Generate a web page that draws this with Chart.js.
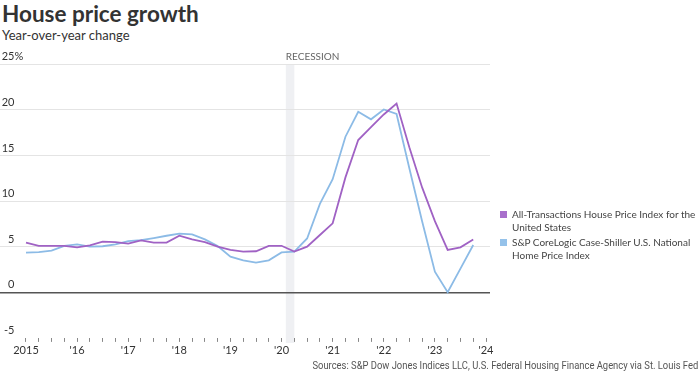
<!DOCTYPE html>
<html>
<head>
<meta charset="utf-8">
<script src="https://cdn.jsdelivr.net/npm/chart.js@4/dist/chart.umd.min.js"></script>
<style>
html,body{margin:0;padding:0;background:#fff;}
body{width:700px;height:376px;position:relative;overflow:hidden;font-family:Lato,"DejaVu Sans",sans-serif;color:#333;}
#c{position:absolute;left:0;top:0;}
#title{position:absolute;left:2px;top:0px;font-size:22.5px;line-height:28px;font-weight:700;color:#333;white-space:nowrap;}
#sub{position:absolute;left:2px;top:26px;font-size:13px;line-height:18px;color:#333;white-space:nowrap;}
#legend{position:absolute;left:499px;top:207.5px;width:201px;font-size:10px;line-height:13.5px;color:#444;}
.item{position:relative;padding-left:13px;margin-bottom:1px;white-space:nowrap;}
.sw{position:absolute;left:1px;top:3px;width:7px;height:7px;}
#src{position:absolute;right:2px;top:358px;font-family:Roboto,sans-serif;font-size:11px;line-height:16px;color:#555;white-space:nowrap;transform:scaleX(0.855);transform-origin:right center;}
</style>
</head>
<body>
<div id="title">House price growth</div>
<div id="sub">Year-over-year change</div>
<canvas id="c" width="700" height="376"></canvas>
<div id="legend"></div>
<div id="src">Sources: S&amp;P Dow Jones Indices LLC, U.S. Federal Housing Finance Agency via St. Louis Fed</div>
<script>
// ---- data ----
const quarters = [
  '2015Q1','2015Q2','2015Q3','2015Q4',
  '2016Q1','2016Q2','2016Q3','2016Q4',
  '2017Q1','2017Q2','2017Q3','2017Q4',
  '2018Q1','2018Q2','2018Q3','2018Q4',
  '2019Q1','2019Q2','2019Q3','2019Q4',
  '2020Q1','2020Q2','2020Q3','2020Q4',
  '2021Q1','2021Q2','2021Q3','2021Q4',
  '2022Q1','2022Q2','2022Q3','2022Q4',
  '2023Q1','2023Q2','2023Q3','2023Q4'
];
const allTransactions = [
  5.44, 5.10, 5.08, 5.10,
  4.93, 5.15, 5.55, 5.50,
  5.33, 5.70, 5.45, 5.45,
  6.20, 5.80, 5.50, 5.00,
  4.64, 4.45, 4.50, 5.08,
  5.10, 4.47, 5.00, 6.28,
  7.56, 12.6, 16.7, 18.1,
  19.5, 20.7, 15.9, 11.5,
  7.8, 4.64, 4.93, 5.80
];
const caseShiller = [
  4.35, 4.40, 4.56, 5.08,
  5.26, 5.00, 5.05, 5.25,
  5.60, 5.73, 5.95, 6.20,
  6.43, 6.35, 5.80, 5.08,
  3.90, 3.50, 3.25, 3.50,
  4.37, 4.47, 5.90, 9.70,
  12.4, 17.06, 19.8, 18.97,
  20.05, 19.55, 13.6, 7.8,
  2.26, 0.0, 2.6, 5.19
];
const seriesNames = ['All-Transactions House Price Index for the United States',
                     'S&P CoreLogic Case-Shiller U.S. National Home Price Index'];
const legendLines = [['All-Transactions House Price Index for the', 'United States'],
                     ['S&P CoreLogic Case-Shiller U.S. National', 'Home Price Index']];
const seriesColors = ['#a062c4', '#8cbbe6'];
const swatchColors = ['#a86fcb', '#95c2ea'];
const yTicks = [-5, 0, 5, 10, 15, 20, 25];
const years = [2015, 2016, 2017, 2018, 2019, 2020, 2021, 2022, 2023, 2024];
const yearLabels = ['2015', "'16", "'17", "'18", "'19", "'20", "'21", "'22", "'23", "'24"];
const recession = [2020 + 1/12, 2020 + 3/12]; // Feb 2020 - Apr 2020
const recessionLabel = 'RECESSION';

// ---- helpers ----
const qToYear = q => parseInt(q.slice(0,4)) + (parseInt(q.slice(5)) - 1) / 4;
const xTickValues = [];
years.forEach((y, i) => {
  xTickValues.push(y);
  if (i < years.length - 1) { xTickValues.push(y + 0.25, y + 0.5, y + 0.75); }
});

// legend (HTML)
const lg = document.getElementById('legend');
legendLines.forEach((lines, i) => {
  const d = document.createElement('div');
  d.className = 'item';
  const sw = document.createElement('span');
  sw.className = 'sw';
  sw.style.background = swatchColors[i];
  d.appendChild(sw);
  lines.forEach((t, k) => {
    if (k > 0) d.appendChild(document.createElement('br'));
    d.appendChild(document.createTextNode(t));
  });
  lg.appendChild(d);
});

const pxPerYear = 460 / 9;
const xMin = 2015 - 26 / pxPerYear;
const xMax = 2024 + 4 / pxPerYear;

const overlay = {
  id: 'overlay',
  beforeDraw(chart) {
    const ctx = chart.ctx, xs = chart.scales.x, a = chart.chartArea;
    const x1 = xs.getPixelForValue(recession[0]), x2 = xs.getPixelForValue(recession[1]);
    ctx.save();
    ctx.fillStyle = '#eff0f3';
    ctx.fillRect(x1, a.top, x2 - x1, a.bottom - a.top + 5);
    ctx.fillStyle = '#666';
    ctx.font = '10px Lato';
    ctx.textAlign = 'left';
    ctx.textBaseline = 'middle';
    ctx.fillText(recessionLabel, x1, a.top - 7.5);
    ctx.restore();
  },
  afterDraw(chart) {
    const ctx = chart.ctx, ys = chart.scales.y;
    ctx.save();
    ctx.fillStyle = '#333';
    ctx.font = '11px Lato';
    ctx.textBaseline = 'middle';
    yTicks.forEach(v => {
      const p = ys.getPixelForValue(v) - 7.5;
      ctx.textAlign = 'right';
      ctx.fillText(String(v), 14.5, p);
      if (v === yTicks[yTicks.length - 1]) {
        ctx.textAlign = 'left';
        ctx.fillText('%', 14.5, p);
      }
    });
    ctx.restore();
  }
};

new Chart(document.getElementById('c'), {
  type: 'line',
  data: {
    datasets: [
      { label: seriesNames[0], data: quarters.map((q, i) => ({x: qToYear(q), y: allTransactions[i]})),
        borderColor: seriesColors[0], borderWidth: 1.8, pointRadius: 0, tension: 0, fill: false },
      { label: seriesNames[1], data: quarters.map((q, i) => ({x: qToYear(q), y: caseShiller[i]})),
        borderColor: seriesColors[1], borderWidth: 1.8, pointRadius: 0, tension: 0, fill: false }
    ]
  },
  options: {
    responsive: false,
    animation: false,
    devicePixelRatio: 1,
    layout: { padding: { top: 64.3, left: 0, right: 210, bottom: 8.1 } },
    plugins: { legend: { display: false }, tooltip: { enabled: false } },
    scales: {
      x: {
        type: 'linear', min: xMin, max: xMax,
        afterBuildTicks: s => { s.ticks = xTickValues.map(v => ({ value: v })); },
        afterFit: s => { s.height = 30; },
        ticks: {
          autoSkip: false, maxRotation: 0, minRotation: 0, padding: 2,
          color: '#333', font: { family: 'Lato', size: 11 },
          callback: v => { const k = years.indexOf(v); return k >= 0 ? yearLabels[k] : ''; }
        },
        grid: { drawOnChartArea: false, drawTicks: true, tickLength: 4, color: '#888', lineWidth: 1 },
        border: { display: false }
      },
      y: {
        min: -5, max: 25,
        afterBuildTicks: s => { s.ticks = yTicks.map(v => ({ value: v })); },
        afterFit: s => { s.width = 0; },
        ticks: { display: false },
        grid: {
          drawTicks: false,
          color: c => c.tick.value === 0 ? '#555' : (c.tick.value === -5 ? 'rgba(0,0,0,0)' : '#e4e4e4'),
          lineWidth: c => c.tick.value === 0 ? 1.5 : 1
        },
        border: { display: false }
      }
    }
  },
  plugins: [overlay]
});
</script>
</body>
</html>
